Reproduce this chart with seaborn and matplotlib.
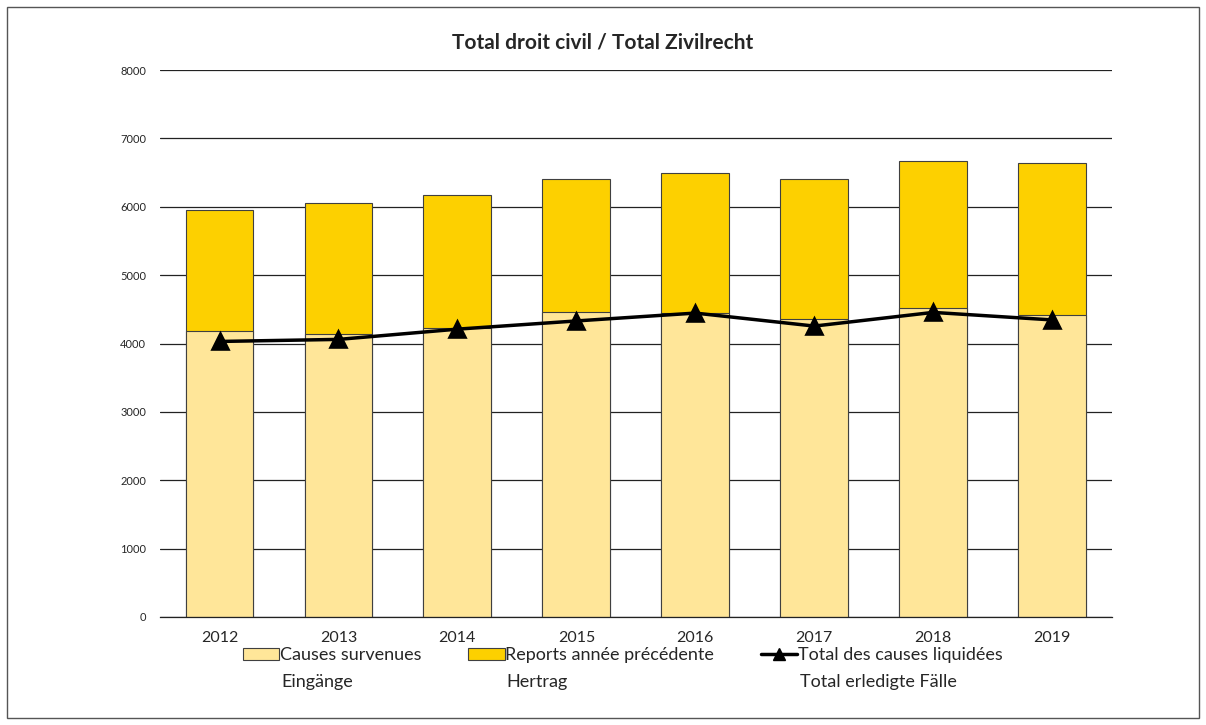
import numpy as np
import pandas as pd
import matplotlib
matplotlib.use("Agg")
import matplotlib.pyplot as plt
import seaborn as sns
from matplotlib.patches import Rectangle
from matplotlib.lines import Line2D

years = ["2012", "2013", "2014", "2015", "2016", "2017", "2018", "2019"]
causes_survenues = [4190, 4135, 4230, 4455, 4440, 4360, 4515, 4420]
reports = [1760, 1915, 1935, 1945, 2060, 2040, 2150, 2215]
liquidees = [4030, 4060, 4210, 4330, 4445, 4255, 4455, 4345]

labels_fr = ["Causes survenues", "Reports année précédente", "Total des causes liquidées"]
labels_de = ["Eingänge", "Hertrag", "Total erledigte Fälle"]

sns.set_theme(style="white")
plt.rcParams["font.family"] = ["Lato", "DejaVu Sans"]

df = pd.DataFrame({"year": years, "survenues": causes_survenues, "reports": reports,
                   "liquidees": liquidees})
df["total"] = df["survenues"] + df["reports"]

c_light = "#FFE699"
c_gold = "#FDD000"

fig = plt.figure(figsize=(12.06, 7.25), dpi=100)
ax = fig.add_axes([0.1327, 0.149, 0.789, 0.7544])

# stacked bars: full total in gold, then the lower part drawn over it
sns.barplot(data=df, x="year", y="total", color=c_gold, width=0.57, saturation=1,
            edgecolor="#404040", linewidth=0.8, ax=ax, zorder=2)
sns.barplot(data=df, x="year", y="survenues", color=c_light, width=0.57, saturation=1,
            edgecolor="#404040", linewidth=0.8, ax=ax, zorder=2)
sns.pointplot(data=df, x="year", y="liquidees", color="black", markers="^",
              linestyles="-", errorbar=None, ax=ax, linewidth=2.5, markersize=11, zorder=4)

ax.set_ylim(0, 8000)
ax.set_yticks(range(0, 8001, 1000))
ax.yaxis.grid(True, color="#222222", linewidth=0.9)
ax.set_axisbelow(True)
ax.set_xlabel("")
ax.set_ylabel("")
for s in ["left", "right", "top"]:
    ax.spines[s].set_visible(False)
ax.spines["bottom"].set_color("#222222")
ax.spines["bottom"].set_linewidth(0.9)
ax.tick_params(axis="y", labelsize=8, length=0, pad=10)
ax.tick_params(axis="x", labelsize=11.5, length=0, pad=10)
ax.set_xlim(-0.5, 7.5)

fig.text(0.5, 0.942, "Total droit civil / Total Zivilrecht", ha="center", va="center",
         fontsize=15, fontweight="bold")

handles = [Rectangle((0, 0), 1, 1, facecolor=c_light, edgecolor="#404040", linewidth=0.8),
           Rectangle((0, 0), 1, 1, facecolor=c_gold, edgecolor="#404040", linewidth=0.8),
           Line2D([0], [0], color="black", linewidth=2.5, marker="^", markersize=8)]
leg = fig.legend(handles, labels_fr, loc="center", bbox_to_anchor=(0.5166, 0.096), ncol=3,
                 frameon=False, fontsize=13, handlelength=2.0, handletextpad=0.05,
                 columnspacing=2.6)

# second line of each legend label, aligned under the first
fig.canvas.draw()
inv = fig.transFigure.inverted()
for t, sub in zip(leg.get_texts(), labels_de):
    bb = t.get_window_extent()
    x0, y0 = inv.transform((bb.x0, bb.y0))
    fig.text(x0 + 0.001, y0 - 0.014, sub, ha="left", va="top", fontsize=13)

fig.patches.append(Rectangle((0.006, 0.01), 0.988, 0.98, transform=fig.transFigure,
                             fill=False, edgecolor="#555555", linewidth=1))

fig.savefig("out.png", dpi=100)
